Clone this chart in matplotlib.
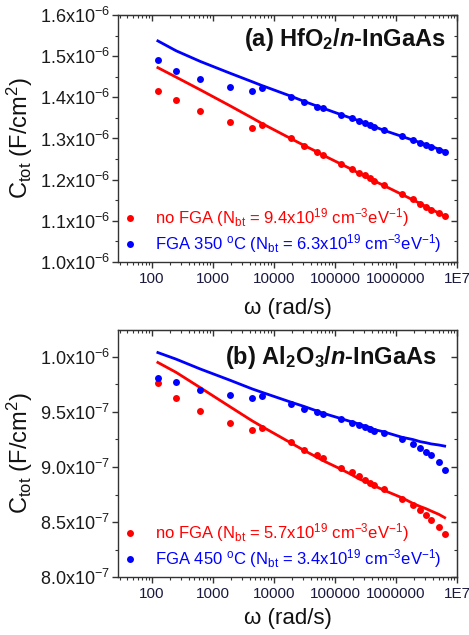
import matplotlib
matplotlib.use("Agg")
import matplotlib.pyplot as plt
import matplotlib.ticker as mticker
import numpy as np

plt.rcParams['font.family'] = ['Liberation Sans', 'DejaVu Sans']
plt.rcParams['mathtext.fontset'] = 'custom'
plt.rcParams['mathtext.rm'] = 'Liberation Sans'
plt.rcParams['mathtext.it'] = 'Liberation Sans:italic'
plt.rcParams['mathtext.bf'] = 'Liberation Sans:bold'
plt.rcParams['mathtext.bfit'] = 'Liberation Sans:bold:italic'

# angular frequency (rad/s)
omega = [126, 251, 628, 1885, 4398, 6283, 18850, 31416, 50265, 62832,
         125664, 188496, 251327, 314159, 376991, 439823, 628318,
         1.257e6, 1.885e6, 2.513e6, 3.142e6, 3.770e6, 5.027e6, 6.283e6]

# Panel (a) HfO2/n-InGaAs  (units 1e-6 F/cm^2)
a_noFGA_pts = [1.416, 1.393, 1.366, 1.340, 1.325, 1.332, 1.300, 1.282, 1.266, 1.259,
               1.239, 1.225, 1.216, 1.211, 1.204, 1.197, 1.186,
               1.166, 1.152, 1.142, 1.134, 1.127, 1.118, 1.111]
a_FGA_pts = [1.490, 1.464, 1.444, 1.425, 1.416, 1.422, 1.400, 1.389, 1.377, 1.373,
             1.358, 1.349, 1.343, 1.338, 1.332, 1.328, 1.320,
             1.306, 1.296, 1.289, 1.285, 1.280, 1.273, 1.268]
a_noFGA_fit = [1.472, 1.449, 1.418, 1.380, 1.350, 1.337, 1.300, 1.283, 1.268, 1.260,
               1.238, 1.225, 1.215, 1.208, 1.202, 1.197, 1.186,
               1.164, 1.151, 1.142, 1.134, 1.128, 1.119, 1.111]
a_FGA_fit = [1.537, 1.513, 1.487, 1.459, 1.438, 1.429, 1.403, 1.390, 1.379, 1.374,
             1.358, 1.349, 1.343, 1.338, 1.333, 1.329, 1.320,
             1.305, 1.296, 1.290, 1.285, 1.281, 1.274, 1.269]

# Panel (b) Al2O3/n-InGaAs (units 1e-6 F/cm^2)
b_noFGA_pts = [0.9759, 0.9628, 0.9509, 0.9396, 0.9335, 0.9357, 0.9229, 0.9159, 0.9107, 0.9082,
               0.8994, 0.8954, 0.8915, 0.8884, 0.8857, 0.8832, 0.8796,
               0.8710, 0.8655, 0.8610, 0.8567, 0.8521, 0.8457, 0.8390]
b_FGA_pts = [0.9808, 0.9774, 0.9698, 0.9652, 0.9625, 0.9646, 0.9570, 0.9530, 0.9497, 0.9482,
             0.9433, 0.9402, 0.9378, 0.9360, 0.9341, 0.9323, 0.9305,
             0.9253, 0.9213, 0.9177, 0.9137, 0.9107, 0.9046, 0.8976]
b_noFGA_fit = [0.995, 0.986, 0.972, 0.955, 0.942, 0.937, 0.922, 0.915, 0.909, 0.906,
               0.898, 0.893, 0.889, 0.887, 0.885, 0.883, 0.879,
               0.872, 0.867, 0.864, 0.862, 0.860, 0.857, 0.854]
b_FGA_fit = [1.004, 0.998, 0.989, 0.979, 0.971, 0.968, 0.959, 0.955, 0.951, 0.949,
             0.944, 0.941, 0.939, 0.937, 0.936, 0.934, 0.932,
             0.927, 0.925, 0.923, 0.922, 0.921, 0.920, 0.919]

xtick_vals = [100, 1000, 10000, 100000, 1000000, 10000000]
xtick_labels = ['100', '1000', '10000', '100000', '1000000', '1E7']

panels = [
    dict(title='(a) HfO$_\\mathbf{2}$/$\\mathbfit{n}$-InGaAs',
         pts=(a_noFGA_pts, a_FGA_pts), fit=(a_noFGA_fit, a_FGA_fit),
         labels=('no FGA (N$_{\\rm bt}$ = 9.4x10$^{19}$ cm$^{-3}$eV$^{-1}$)',
                 'FGA 350 $^{\\rm o}$C (N$_{\\rm bt}$ = 6.3x10$^{19}$ cm$^{-3}$eV$^{-1}$)'),
         ylim=(1.0, 1.6), yticks=[1.0, 1.1, 1.2, 1.3, 1.4, 1.5, 1.6], yminor=0.05,
         rect=[0.2516, 0.5874, 0.7228, 0.389], title_pos=(0.965, 0.899), xlab_y=-0.146),
    dict(title='(b) Al$_\\mathbf{2}$O$_\\mathbf{3}$/$\\mathbfit{n}$-InGaAs',
         pts=(b_noFGA_pts, b_FGA_pts), fit=(b_noFGA_fit, b_FGA_fit),
         labels=('no FGA (N$_{\\rm bt}$ = 5.7x10$^{19}$ cm$^{-3}$eV$^{-1}$)',
                 'FGA 450 $^{\\rm o}$C (N$_{\\rm bt}$ = 3.4x10$^{19}$ cm$^{-3}$eV$^{-1}$)'),
         ylim=(0.80, 1.0245), yticks=[0.80, 0.85, 0.90, 0.95, 1.00], yminor=0.025,
         rect=[0.2516, 0.0913, 0.7228, 0.389], title_pos=(0.941, 0.887), xlab_y=-0.126),
]


def yfmt(v, pos):
    if v >= 0.999:
        return '%.1fx10$^{\\mathregular{-6}}$' % v
    return '%.1fx10$^{\\mathregular{-7}}$' % (v * 10)


fig = plt.figure(figsize=(4.69, 6.35), dpi=100)
colors = ('#ff0000', '#0000ff')
tick_col = '#1a1a40'
spine_col = '#333333'

for p in panels:
    ax = fig.add_axes(p['rect'])
    ax.set_xscale('log')
    ax.set_xlim(28, 1e7)
    ax.set_ylim(*p['ylim'])
    handles = []
    for i in range(2):
        h, = ax.plot(omega, p['pts'][i], 'o', color=colors[i], ms=5, mec='none',
                     label=p['labels'][i], zorder=3)
        ax.plot(omega, p['fit'][i], '-', color=colors[i], lw=2.0, zorder=2,
                solid_joinstyle='round')
        handles.append(h)
    leg = ax.legend(handles=handles, loc='lower left', frameon=False, fontsize=12,
                    handlelength=0.6, handletextpad=1.2, borderaxespad=0.0,
                    labelspacing=0.2, bbox_to_anchor=(0.0, 0.0))
    for t, c in zip(leg.get_texts(), colors):
        t.set_color(c)
    ax.set_xticks(xtick_vals)
    ax.set_xticklabels(xtick_labels)
    ax.xaxis.set_minor_locator(mticker.LogLocator(base=10, subs=np.arange(2, 10)))
    ax.xaxis.set_minor_formatter(mticker.NullFormatter())
    ax.set_yticks(p['yticks'])
    ax.yaxis.set_major_formatter(mticker.FuncFormatter(yfmt))
    ax.yaxis.set_minor_locator(mticker.MultipleLocator(p['yminor']))
    ax.tick_params(axis='x', which='major', direction='out', length=4, width=1,
                   labelsize=11, labelcolor=tick_col, color=spine_col, pad=3)
    ax.tick_params(axis='x', which='minor', direction='out', length=2.5, width=0.8, color=spine_col)
    ax.tick_params(axis='y', which='major', direction='out', length=4, width=1,
                   labelsize=13, labelcolor='#1a1a1a', color=spine_col, pad=2)
    ax.tick_params(axis='y', which='minor', direction='out', length=2.5, width=0.8, color=spine_col)
    for s in ax.spines.values():
        s.set_color(spine_col)
        s.set_linewidth(1.0)
    # top and right with inward ticks
    sx = ax.secondary_xaxis('top')
    sx.set_xticks(xtick_vals)
    sx.xaxis.set_minor_locator(mticker.LogLocator(base=10, subs=np.arange(2, 10)))
    sx.xaxis.set_minor_formatter(mticker.NullFormatter())
    sx.tick_params(which='major', direction='in', length=4, width=1, labeltop=False, color=spine_col)
    sx.tick_params(which='minor', direction='in', length=2.5, width=0.8, color=spine_col)
    sx.spines['top'].set_color(spine_col)
    sy = ax.secondary_yaxis('right')
    sy.set_yticks(p['yticks'])
    sy.yaxis.set_minor_locator(mticker.MultipleLocator(p['yminor']))
    sy.tick_params(which='major', direction='in', length=4, width=1, labelright=False, color=spine_col)
    sy.tick_params(which='minor', direction='in', length=2.5, width=0.8, color=spine_col)
    sy.spines['right'].set_color(spine_col)

    ax.text(p['title_pos'][0], p['title_pos'][1], p['title'], transform=ax.transAxes,
            ha='right', va='center', fontsize=17, fontweight='bold', color='#111111')
    ax.set_xlabel('\u03c9 (rad/s)', fontsize=16, color='#111111')
    ax.xaxis.set_label_coords(0.5, p['xlab_y'])
    ax.set_ylabel('C$_{\\rm tot}$ (F/cm$^{2}$)', fontsize=17, color='#111111')
    ax.yaxis.set_label_coords(-0.245, 0.5)

fig.savefig('out.png', dpi=100)
